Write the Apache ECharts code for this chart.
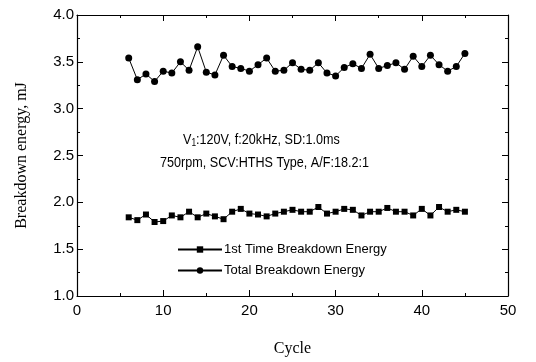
<!DOCTYPE html>
<html>
<head>
<meta charset="utf-8">
<script src="https://cdn.jsdelivr.net/npm/echarts@6/dist/echarts.min.js"></script>
<style>
  html, body { margin: 0; padding: 0; background: #fff; }
  #chart { width: 536px; height: 362px; }
</style>
</head>
<body>
<div id="chart"></div>
<script>
// cycles 6..45
const cycles = [6, 7, 8, 9, 10, 11, 12, 13, 14, 15, 16, 17, 18, 19, 20, 21, 22, 23, 24, 25,
  26, 27, 28, 29, 30, 31, 32, 33, 34, 35, 36, 37, 38, 39, 40, 41, 42, 43, 44, 45]

const firstTime = [1.84, 1.81, 1.87, 1.79, 1.80, 1.86, 1.84, 1.90, 1.84, 1.88,
  1.85, 1.82, 1.90, 1.93, 1.88, 1.87, 1.85, 1.88, 1.90, 1.92,
  1.90, 1.90, 1.95, 1.88, 1.90, 1.93, 1.92, 1.86, 1.90, 1.90,
  1.94, 1.90, 1.90, 1.86, 1.93, 1.86, 1.95, 1.90, 1.92, 1.90]

const total = [3.54, 3.31, 3.37, 3.29, 3.40, 3.38, 3.50, 3.41, 3.66, 3.39,
  3.36, 3.57, 3.45, 3.43, 3.40, 3.47, 3.54, 3.40, 3.41, 3.49,
  3.42, 3.41, 3.49, 3.38, 3.35, 3.44, 3.48, 3.43, 3.58, 3.43,
  3.46, 3.49, 3.42, 3.56, 3.45, 3.57, 3.47, 3.40, 3.45, 3.59]

const seriesNames = ['1st Time Breakdown Energy', 'Total Breakdown Energy']

const pair = (ys) => cycles.map((c, i) => [c, ys[i]])

const chart = echarts.init(document.getElementById('chart'))

const sans = 'Liberation Sans'
const serif = 'Liberation Serif'

const tickCommon = {
  axisLine: { show: true, onZero: false, lineStyle: { color: '#000', width: 1.2 } },
  axisTick: { show: true, inside: true, length: 6, lineStyle: { color: '#000' } },
  minorTick: { show: true, splitNumber: 2, length: 3, lineStyle: { color: '#000' } },
  splitLine: { show: false }
}

const option = {
  backgroundColor: '#fff',
  animation: false,
  grid: { left: 77, right: 28, top: 15, bottom: 64 },
  legend: {
    orient: 'vertical',
    left: 172,
    top: 238,
    itemGap: 8,
    itemWidth: 44,
    itemHeight: 8,
    data: seriesNames,
    textStyle: { fontFamily: sans, fontSize: 13, color: '#000', padding: [0, 0, 0, -3] }
  },
  xAxis: [
    Object.assign({
      type: 'value', min: 0, max: 50, interval: 10,
      name: 'Cycle', nameLocation: 'middle', nameGap: 45,
      nameTextStyle: { fontFamily: serif, fontSize: 16, color: '#000' },
      axisLabel: { fontFamily: sans, fontSize: 15, color: '#000', margin: 7 }
    }, tickCommon),
    Object.assign({
      type: 'value', min: 0, max: 50, interval: 10, position: 'top',
      axisLabel: { show: false }
    }, tickCommon)
  ],
  yAxis: [
    Object.assign({
      type: 'value', min: 1, max: 4, interval: 0.5,
      name: 'Breakdown energy, mJ', nameLocation: 'middle', nameGap: 47,
      nameTextStyle: { fontFamily: serif, fontSize: 16, color: '#000' },
      axisLabel: {
        fontFamily: sans, fontSize: 15, color: '#000', margin: 3,
        formatter: (v) => v.toFixed(1)
      }
    }, tickCommon),
    Object.assign({
      type: 'value', min: 1, max: 4, interval: 0.5, position: 'right',
      axisLabel: { show: false }
    }, tickCommon)
  ],
  graphic: [
    {
      type: 'text', x: 183, y: 131, scaleX: 0.84,
      style: {
        text: '{a|V}{s|1}{a|:120V, f:20kHz, SD:1.0ms}',
        rich: {
          a: { fontFamily: sans, fontSize: 15, fill: '#000' },
          s: { fontFamily: sans, fontSize: 10, fill: '#000', verticalAlign: 'bottom', padding: [7, 0, 0, 0] }
        }
      }
    },
    {
      type: 'text', x: 160, y: 155, scaleX: 0.84,
      style: {
        text: '750rpm, SCV:HTHS Type, A/F:18.2:1',
        fontFamily: sans, fontSize: 15, fill: '#000'
      }
    }
  ],
  series: [
    {
      name: seriesNames[0],
      type: 'line',
      data: pair(firstTime),
      symbol: 'rect',
      symbolSize: 6,
      lineStyle: { color: '#000', width: 1 },
      itemStyle: { color: '#000' }
    },
    {
      name: seriesNames[1],
      type: 'line',
      data: pair(total),
      symbol: 'circle',
      symbolSize: 7,
      lineStyle: { color: '#000', width: 1 },
      itemStyle: { color: '#000' }
    }
  ]
}

chart.setOption(option)
</script>
</body>
</html>
